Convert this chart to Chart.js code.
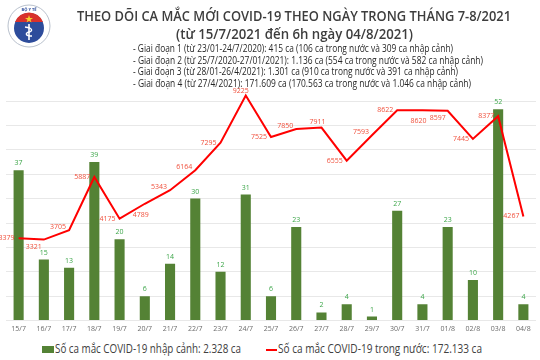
<!DOCTYPE html>
<html><head><meta charset="utf-8">
<script src="https://cdn.jsdelivr.net/npm/chart.js@4.4.1/dist/chart.umd.min.js"></script>
<style>
html,body{margin:0;padding:0;background:#fff;width:540px;height:360px;overflow:hidden}
#wrap{position:relative;width:540px;height:360px}
#cv{position:absolute;left:0;top:0;width:540px;height:337px}
.t{position:absolute;font-family:"Open Sans",sans-serif;color:#3d3d3d;white-space:nowrap;transform-origin:0 50%}
#t1{top:5px;font-size:15px;font-weight:600;line-height:20px}
#t2{top:23px;font-size:15px;font-weight:600;line-height:20px}
.p{font-size:10px;line-height:11.3px;color:#262626}
#logo{position:absolute;left:6px;top:3px}
.li{position:absolute;top:341px;white-space:nowrap;line-height:16px;font-family:"Open Sans",sans-serif;font-size:12.5px;color:#404040;transform-origin:0 50%}
.sw1{position:absolute;left:42px;top:346px;width:12px;height:7px;background:#548235}
.sw2{position:absolute;left:266px;top:349px;width:11px;height:2px;background:#ff0000}
</style></head>
<body>
<div id="wrap">
<canvas id="cv" width="540" height="337"></canvas>
<svg id="logo" width="46" height="46" viewBox="0 0 46 46">
  <circle cx="23" cy="23" r="21" fill="#fff" stroke="#b8c0cc" stroke-width="1"/>
  <circle cx="23" cy="25" r="15" fill="#2d4c9b"/>
  <path d="M9 19 A15 15 0 0 1 37 19 Z" fill="#d8312c"/>
  <polygon points="23,12 24,15 27,15 24.5,16.8 25.5,19.5 23,17.8 20.5,19.5 21.5,16.8 19,15 22,15" fill="#f2d230"/>
  <line x1="23" y1="21" x2="23" y2="37" stroke="#fff" stroke-width="1.6"/>
  <path d="M19 24 C27 25 27 28 23 29 C19 30 19 33 26 33" fill="none" stroke="#fff" stroke-width="1.3"/>
  <text x="23" y="7.5" font-size="4" text-anchor="middle" fill="#2d4c9b" font-family="Open Sans" font-weight="700">BỘ Y TẾ</text>
</svg>
<div class="t" id="t1">THEO DÕI CA MẮC MỚI COVID-19 THEO NGÀY TRONG THÁNG 7-8/2021</div>
<div class="t" id="t2">(từ 15/7/2021 đến 6h ngày 04/8/2021)</div>
<div class="t p" id="p1" style="top:43px">- Giai đoạn 1 (từ 23/01-24/7/2020): 415 ca (106 ca trong nước và 309 ca nhập cảnh)</div>
<div class="t p" id="p2" style="top:54.5px">- Giai đoạn 2 (từ 25/7/2020-27/01/2021): 1.136 ca (554 ca trong nước và 582 ca nhập cảnh)</div>
<div class="t p" id="p3" style="top:66px">- Giai đoạn 3 (từ 28/01-26/4/2021): 1.301 ca (910 ca trong nước và 391 ca nhập cảnh)</div>
<div class="t p" id="p4" style="top:77.5px">- Giai đoạn 4 (từ 27/4/2021): 171.609 ca (170.563 ca trong nước và 1.046 ca nhập cảnh)</div>
<div class="sw1"></div><div class="li" id="lg1"></div>
<div class="sw2"></div><div class="li" id="lg2"></div>
</div>
<script>
const categories = ['15/7','16/7','17/7','18/7','19/7','20/7','21/7','22/7','23/7','24/7','25/7','26/7','27/7','28/7','29/7','30/7','31/7','01/8','02/8','03/8','04/8'];
const importedCases = [37,15,13,39,20,6,14,30,12,31,6,23,2,4,1,27,4,23,10,52,4];
const domesticCases = [3379,3321,3705,5887,4175,4789,5343,6164,7295,9225,7525,7850,7911,6555,7593,8622,8620,8597,7445,8377,4267];
const seriesNames = ['Số ca mắc COVID-19 nhập cảnh: 2.328 ca','Số ca mắc COVID-19 trong nước: 172.133 ca'];

document.getElementById('lg1').textContent = seriesNames[0];
document.getElementById('lg2').textContent = seriesNames[1];

function fit(id, left, width) {
  const el = document.getElementById(id);
  el.style.transform = 'none';
  el.style.left = left + 'px';
  const w = el.getBoundingClientRect().width;
  el.style.transform = 'scaleX(' + (width / w) + ')';
}
function layoutText() {
  fit('t1', 77, 434);
  fit('t2', 176, 237);
  fit('p1', 133, 320);
  fit('p2', 133, 350);
  fit('p3', 133, 325);
  fit('p4', 133, 338);
  fit('lg1', 55, 186);
  fit('lg2', 278, 204);
}
layoutText();
if (document.fonts && document.fonts.ready) document.fonts.ready.then(layoutText);

// label placement style for the red line values
const lineLabelPlacement = ['left','belowleft','leftup','left','left','below','leftup','leftup','left','aboveleft','left','leftup','above','left','leftup','left','below','belowleft','left','left','left'];

const valueLabels = {
  id: 'valueLabels',
  afterDatasetsDraw(chart) {
    const ctx = chart.ctx;
    ctx.save();
    ctx.font = '7px "Open Sans"';
    ctx.textBaseline = 'middle';
    const bm = chart.getDatasetMeta(0);
    ctx.fillStyle = '#3da64a';
    ctx.textAlign = 'center';
    bm.data.forEach((el, i) => ctx.fillText(String(importedCases[i]), el.x, el.y - 7));
    const lm = chart.getDatasetMeta(1);
    ctx.fillStyle = '#f0503c';
    lm.data.forEach((el, i) => {
      const p = lineLabelPlacement[i];
      const s = String(domesticCases[i]);
      let x = el.x, y = el.y;
      if (p === 'left') { ctx.textAlign = 'right'; x -= 4; }
      else if (p === 'leftup') { ctx.textAlign = 'right'; x -= 3; y -= 3; }
      else if (p === 'belowleft') { ctx.textAlign = 'right'; x -= 2; y += 7; }
      else if (p === 'below') { ctx.textAlign = 'center'; x -= 4; y += 11; }
      else if (p === 'above') { ctx.textAlign = 'center'; x -= 4; y -= 6; }
      else if (p === 'aboveleft') { ctx.textAlign = 'center'; x -= 5; y -= 5; }
      ctx.fillText(s, x, y);
    });
    ctx.restore();
  }
};

new Chart(document.getElementById('cv'), {
  data: {
    labels: categories,
    datasets: [
      { type: 'bar', label: seriesNames[0], data: importedCases, yAxisID: 'y',
        backgroundColor: '#548235', barPercentage: 0.4, categoryPercentage: 1, order: 2 },
      { type: 'line', label: seriesNames[1], data: domesticCases, yAxisID: 'y1',
        borderColor: '#ff0000', borderWidth: 2, pointRadius: 0, tension: 0, clip: false, order: 1 }
    ]
  },
  options: {
    responsive: false,
    animation: false,
    layout: { padding: { left: 6, right: 4, top: 101, bottom: 0 } },
    plugins: { legend: { display: false }, tooltip: { enabled: false } },
    scales: {
      x: { grid: { display: false, drawTicks: false }, border: { display: false },
           ticks: { font: { size: 7, family: 'Open Sans' }, color: '#6b6b6b', padding: 4, maxRotation: 0, autoSkip: false } },
      y: { position: 'left', min: 0, max: 54, ticks: { display: false, stepSize: 6 },
           grid: { color: '#e8e8e8', drawTicks: false, lineWidth: 1 }, border: { display: false } },
      y1: { position: 'right', min: 0, max: 9000, ticks: { display: false, stepSize: 1000 },
            grid: { display: false, drawTicks: false }, border: { display: false } }
    }
  },
  plugins: [valueLabels]
});
</script>
</body></html>
